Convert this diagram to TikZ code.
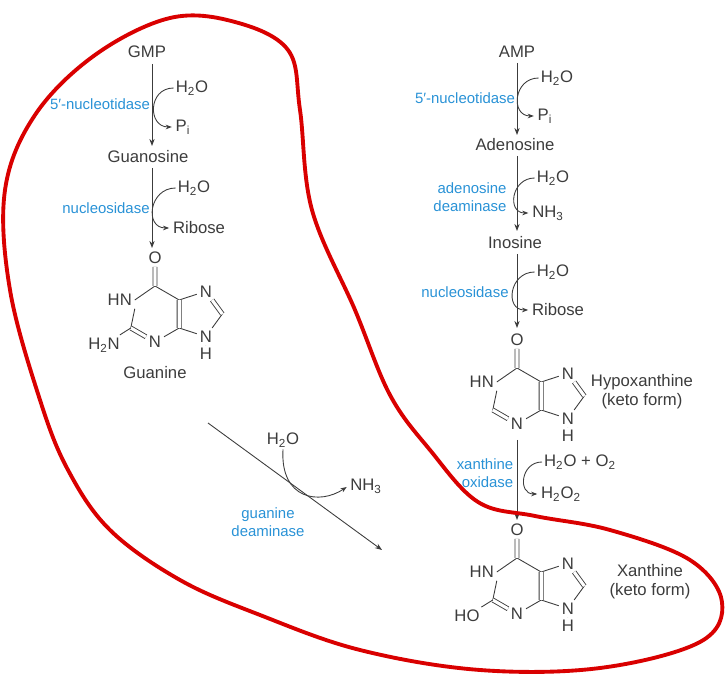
\documentclass[tikz,border=0pt]{standalone}
\usepackage{fontspec}
\setmainfont{Liberation Sans}
\usetikzlibrary{arrows.meta}

\definecolor{enzblue}{RGB}{41,146,214}
\definecolor{inkgray}{RGB}{60,60,60}
\tikzset{
  txt/.style = {font=\fontsize{9.5}{11}\selectfont, text=inkgray, inner sep=1pt},
  enz/.style = {font=\fontsize{8.5}{10}\selectfont, text=enzblue, align=right, inner sep=1pt},
  atom/.style = {txt, inner sep=1.5pt},
  bond/.style = {draw=inkgray, line width=0.5pt},
  dbond/.style = {bond, double, double distance=1.8pt},
  main/.style = {draw=inkgray, line width=0.5pt, -{Stealth[length=4pt]}},
  side/.style = {draw=inkgray, line width=0.5pt, -{Stealth[length=3.5pt]}, shorten >=1pt}
}
% purine core: #1,#2 hexagon centre, #3 name prefix
\newcommand\purine[3]{%
  \coordinate (#3c6) at (#1,#2-28);
  \node[atom, anchor=east] (#3n1) at (#1-20.2,#2-14) {HN};
  \coordinate (#3c2) at (#1-24.2,#2+14);
  \node[atom] (#3n3) at (#1,#2+28) {N};
  \coordinate (#3c4) at (#1+24.2,#2+14);
  \coordinate (#3c5) at (#1+24.2,#2-14);
  \node[atom] (#3n7) at (#1+50.8,#2-22.7) {N};
  \coordinate (#3c8) at (#1+67.3,#2);
  \node[atom] (#3n9) at (#1+50.8,#2+22.7) {N};
  \node[atom] (#3h9) at (#1+50.8,#2+40) {H};
  \node[atom] (#3o) at (#1,#2-56) {O};
  \draw[bond] (#3c6) -- (#3n1.east) (#3n1.south east) -- (#3c2) (#3n3) -- (#3c4)
    (#3c5) -- (#3c6) (#3c5) -- (#3n7) (#3c8) -- (#3n9) (#3n9) -- (#3c4) (#3n9) -- (#3h9);
  \draw[dbond] (#3c2) -- (#3n3) (#3c4) -- (#3c5) (#3n7) -- (#3c8) (#3c6) -- (#3o);
}

\begin{document}
\begin{tikzpicture}[x=0.02cm, y=-0.02cm]
\useasboundingbox (0,0) rectangle (727,678);

% guanine branch
\node[txt] (gmp) at (147,52) {GMP};
\node[txt] (guo) at (148,157) {Guanosine};
\draw[main] (152,64) -- (152,146);
\node[txt] (w1) at (192,88) {H\textsubscript{2}O};
\node[txt] (pi1) at (183,127) {P\textsubscript{i}};
\node[enz] (e1) at (100,104) {5′-nucleotidase};
\draw[side] (w1.west) to[out=180,in=180,looseness=1.7] (pi1.west);
\draw[main] (152,168) -- (152,248);
\node[txt] (w2) at (194,188) {H\textsubscript{2}O};
\node[txt] (rib1) at (199,228) {Ribose};
\node[enz] (e2) at (106,208) {nucleosidase};
\draw[side] (w2.west) to[out=180,in=180,looseness=1.7] (rib1.west);
\purine{155}{314}{g}
\node[atom] (gnh2) at (104,345) {H\textsubscript{2}N};
\draw[bond] (gnh2) -- (gc2);
\node[txt] (gua) at (155,373) {Guanine};

% adenine branch
\node[txt] (amp) at (517,52) {AMP};
\draw[main] (517,63) -- (517,135);
\node[txt] (w3) at (557,78) {H\textsubscript{2}O};
\node[txt] (pi2) at (545,116) {P\textsubscript{i}};
\node[enz] (e3) at (465,98) {5′-nucleotidase};
\draw[side] (w3.west) to[out=180,in=180,looseness=1.7] (pi2.west);
\node[txt] (ado) at (515,145) {Adenosine};
\draw[main] (517,156) -- (517,231);
\node[txt] (w4) at (553,178) {H\textsubscript{2}O};
\node[txt] (nh1) at (548,213) {NH\textsubscript{3}};
\node[enz] (e4) at (470,197) {adenosine\\deaminase};
\draw[side] (w4.west) to[out=180,in=180,looseness=1.7] (nh1.west);
\node[txt] (ino) at (515,243) {Inosine};
\draw[main] (517,254) -- (517,328);
\node[txt] (w5) at (553,272) {H\textsubscript{2}O};
\node[txt] (rib2) at (558,310) {Ribose};
\node[enz] (e5) at (465,292) {nucleosidase};
\draw[side] (w5.west) to[out=180,in=180,looseness=1.7] (rib2.west);
\purine{517}{396}{h}
\node[txt, align=center] (hyp) at (642,392) {Hypoxanthine\\(keto form)};
\draw[main] (517,440) -- (517,520);
\node[txt] (w6) at (580,462) {H\textsubscript{2}O + O\textsubscript{2}};
\node[txt] (ox) at (561,494) {H\textsubscript{2}O\textsubscript{2}};
\node[enz] (e6) at (485,473) {xanthine\\oxidase};
\draw[side] (w6.west) to[out=180,in=180,looseness=1.7] (ox.west);
\purine{517}{586}{x}
\node[atom] (xoh) at (467,616) {HO};
\draw[bond] (xoh) -- (xc2);
\node[txt, align=center] (xan) at (650,582) {Xanthine\\(keto form)};

% guanine deaminase
\coordinate (gd0) at (208,423);
\coordinate (gd1) at (382,550);
\draw[main] (gd0) -- (gd1);
\node[txt] (w7) at (283,440) {H\textsubscript{2}O};
\node[txt] (nh2) at (366,486) {NH\textsubscript{3}};
\node[enz, align=center] (e7) at (268,522) {guanine\\deaminase};
\draw[side] (w7.south) .. controls (280,500) and (320,505) .. (nh2.west);

% red outline
\draw[red!85!black, line width=2.2pt, line join=round] plot[smooth cycle, tension=0.6] coordinates {
  (68,470) (40,400) (10,290) (5,190) (35,115) (95,55) (170,18) (235,22)
  (288,50) (300,110) (312,210) (355,310) (390,395) (430,450) (478,502)
  (535,516) (610,530) (690,560) (722,602) (700,642) (600,668) (480,670)
  (360,650) (260,615) (180,580) (110,530)};
\end{tikzpicture}
\end{document}
